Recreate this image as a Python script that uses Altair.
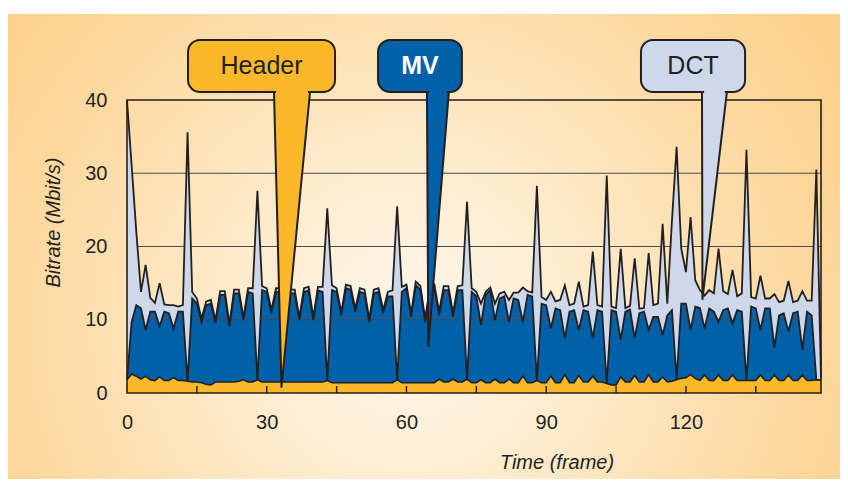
import altair as alt
import pandas as pd

# ---------------- data ----------------
frames = list(range(150))

# top of the Header layer (Mbit/s)
header_rate = [
    1.8, 2.6, 2.3, 1.9, 2.3, 1.8, 1.7, 2.2, 1.7, 1.7,
    2.1, 1.7, 1.7, 1.6, 1.5, 1.5, 1.4, 1.2, 1.1, 1.5,
    1.5, 1.5, 1.5, 1.5, 1.6, 1.8, 1.5, 1.5, 1.8, 1.5,
    1.5, 1.5, 1.5, 1.5, 1.5, 1.5, 1.5, 1.5, 1.5, 1.5,
    1.5, 1.5, 1.5, 1.7, 1.4, 1.4, 1.4, 1.4, 1.4, 1.4,
    1.4, 1.4, 1.4, 1.4, 1.4, 1.4, 1.4, 1.4, 1.8, 1.4,
    1.4, 1.4, 1.4, 1.4, 1.4, 1.4, 1.4, 1.9, 1.5, 1.5,
    1.9, 1.5, 1.5, 1.9, 1.4, 1.4, 1.8, 1.4, 1.4, 1.9,
    1.4, 1.4, 1.9, 1.4, 1.4, 2.3, 1.4, 1.4, 1.7, 1.4,
    1.4, 2.3, 1.4, 1.4, 2.5, 1.4, 1.4, 2.4, 1.5, 1.5,
    2.3, 1.5, 1.5, 1.3, 1.1, 1.1, 2.2, 1.5, 1.5, 2.4,
    1.5, 1.5, 2.5, 1.5, 1.5, 2.2, 1.5, 1.6, 1.8, 2.0,
    2.1, 2.5, 2.0, 1.7, 2.45, 1.7, 1.7, 2.45, 1.7, 1.7,
    2.45, 1.7, 1.7, 1.7, 1.7, 1.7, 2.45, 1.7, 1.7, 2.45,
    1.7, 1.7, 2.45, 1.7, 1.7, 2.45, 1.7, 1.7, 1.8, 1.8,
]

# top of the Header + MV layers (Mbit/s)
header_mv_rate = [
    1.8, 9.7, 12.0, 11.55, 8.6, 11.1, 11.1, 9.1, 11.1, 10.9,
    8.8, 11.1, 11.1, 1.6, 12.9, 12.2, 9.7, 12.0, 12.2, 9.5,
    13.4, 13.4, 9.05, 13.6, 13.6, 9.95, 13.8, 13.6, 1.8, 14.05,
    13.8, 10.9, 13.8, 13.8, 9.5, 13.6, 13.6, 9.95, 13.8, 14.0,
    9.95, 14.0, 13.8, 1.7, 14.05, 13.8, 10.6, 14.3, 14.1, 11.1,
    13.8, 13.6, 9.7, 13.6, 13.8, 10.9, 13.2, 13.2, 1.8, 13.8,
    14.3, 10.4, 14.7, 14.1, 9.7, 13.8, 14.3, 10.6, 14.05, 14.05,
    10.4, 14.05, 14.05, 1.9, 13.8, 13.2, 9.3, 13.4, 14.05, 9.95,
    12.9, 13.2, 9.7, 12.9, 12.7, 9.7, 13.4, 13.2, 1.7, 12.2,
    12.0, 8.8, 11.55, 11.3, 7.5, 11.1, 11.3, 8.6, 11.3, 11.1,
    7.5, 11.3, 11.1, 1.3, 11.3, 11.1, 7.3, 11.1, 11.4, 7.5,
    10.9, 11.1, 8.6, 10.4, 10.4, 7.9, 10.6, 11.3, 1.8, 12.2,
    12.2, 8.6, 11.8, 11.6, 8.8, 11.55, 11.1, 9.7, 11.3, 11.55,
    9.5, 11.3, 11.1, 1.7, 11.8, 11.55, 8.6, 11.55, 11.55, 6.2,
    10.6, 10.9, 8.4, 10.9, 11.1, 5.9, 11.1, 10.6, 1.8, 1.8,
]

# total bitrate = Header + MV + DCT (Mbit/s)
total_rate = [
    40.0, 31.0, 22.0, 13.8, 17.5, 13.0, 12.3, 15.0, 12.1, 12.0,
    12.0, 11.8, 12.0, 35.6, 13.8, 12.9, 10.1, 12.5, 12.7, 9.9,
    13.9, 13.9, 9.4, 14.1, 14.1, 10.3, 14.3, 14.3, 27.6, 14.6,
    14.3, 11.3, 14.3, 14.3, 9.9, 14.1, 14.1, 10.3, 14.3, 14.5,
    10.3, 14.5, 14.5, 25.2, 14.7, 14.3, 11.0, 14.8, 14.6, 11.5,
    14.3, 14.1, 10.1, 14.1, 14.3, 11.3, 13.8, 14.0, 25.5, 14.5,
    14.8, 10.8, 15.2, 14.6, 10.1, 14.3, 14.8, 11.1, 14.6, 14.6,
    10.9, 14.6, 14.7, 26.1, 14.3, 13.8, 12.2, 13.8, 14.4, 12.2,
    13.6, 13.8, 12.7, 13.7, 13.7, 14.4, 13.9, 13.7, 28.3, 13.1,
    12.7, 13.8, 12.5, 12.7, 14.7, 12.0, 12.2, 15.2, 11.8, 12.0,
    19.3, 12.0, 11.8, 29.7, 11.8, 11.6, 19.7, 11.6, 11.9, 18.4,
    11.5, 11.6, 19.1, 12.0, 12.2, 23.1, 12.2, 23.5, 33.6, 19.7,
    16.5, 24.0, 15.4, 14.05, 13.3, 14.05, 13.6, 19.7, 13.9, 13.5,
    16.8, 13.2, 13.6, 33.2, 13.1, 12.9, 16.0, 12.9, 12.9, 13.5,
    12.4, 12.6, 15.3, 12.4, 12.6, 13.9, 12.6, 12.6, 30.5, 2.0,
]

x_label_values = [0, 30, 60, 90, 120]
x_minor_ticks = [15, 30, 45, 60, 75, 90, 105, 120, 135]
y_label_values = [0, 10, 20, 30, 40]
grid_values = [10, 20, 30]
frame_domain = [0, 149]
rate_domain = [0, 40]

callout_labels = ["Header", "MV", "DCT"]
callout_fill = ["#FBB829", "#0061A9", "#CDD9EA"]
callout_text_color = ["#231F20", "#FFFFFF", "#231F20"]
callout_weight = ["normal", "bold", "normal"]
box_x1 = [13.1, 53.9, 110.35]
box_x2 = [44.66, 71.9, 132.7]
box_y1 = [41.1, 41.1, 41.1]
box_y2 = [48.2, 48.2, 48.2]
ptr_left = [31.56, 64.4, 123.45]
ptr_right = [39.3, 69.1, 128.8]
ptr_tip_x = [33.17, 64.69, 123.55]
ptr_tip_y = [0.82, 6.42, 12.83]

# ---------------- styling ----------------
W, H = 694, 293
PAD = {"left": 119, "top": 92, "right": 19, "bottom": 86}
FONT = "Liberation Sans"
INK = "#231F20"
C_HEADER = "#FBB829"
C_MV = "#0061A9"
C_DCT = "#CDD9EA"

df = pd.DataFrame({
    "frame": frames,
    "h": header_rate,
    "hm": header_mv_rate,
    "t": total_rate,
    "zero": [0.0] * len(frames),
})

xs = alt.Scale(domain=frame_domain, nice=False, zero=False)
ys = alt.Scale(domain=rate_domain, nice=False)

x_axis = alt.Axis(
    values=x_label_values, title="Time (frame)", ticks=False, tickSize=0,
    domain=False, grid=False, labelFlush=False, labelPadding=19,
    labelFont=FONT, labelFontSize=20, labelColor=INK,
    titleFont=FONT, titleFontSize=20, titleFontStyle="italic",
    titleFontWeight="normal", titleColor=INK,
    titleX=429.5, titleY=69, titleAlign="center", titleBaseline="middle",
    zindex=1,
)
y_axis = alt.Axis(
    values=y_label_values, title="Bitrate (Mbit/s)", ticks=False, tickSize=0,
    domain=False, grid=False, labelFlush=False, labelPadding=20,
    labelFont=FONT, labelFontSize=20, labelColor=INK,
    titleFont=FONT, titleFontSize=20, titleFontStyle="italic",
    titleFontWeight="normal", titleColor=INK,
    titleX=-74, titleY=122, titleAlign="center", titleBaseline="middle",
    zindex=1,
)


def X(field):
    return alt.X(field, scale=xs, axis=x_axis, title="Time (frame)")


def Y(field):
    return alt.Y(field, scale=ys, axis=y_axis, title="Bitrate (Mbit/s)")


# background panel with a radial gradient
bg = alt.Chart(pd.DataFrame({"k": [0]})).mark_rect(
    fill=alt.Gradient(
        gradient="radial",
        stops=[
            alt.GradientStop(offset=0, color="#FFF8EE"),
            alt.GradientStop(offset=0.35, color="#FEEBCB"),
            alt.GradientStop(offset=0.75, color="#FDD9A0"),
            alt.GradientStop(offset=1, color="#FDD08A"),
        ],
        x1=0.48, y1=0.6, r1=0, x2=0.48, y2=0.6, r2=0.62,
    ),
    strokeWidth=0,
).encode(
    x=alt.value(-PAD["left"]),
    x2=alt.value(W + PAD["right"]),
    y=alt.value(-PAD["top"] + 6),
    y2=alt.value(H + PAD["bottom"]),
)

base = alt.Chart(df)

header_area = base.mark_area(color=C_HEADER, opacity=1).encode(
    x=X("frame:Q"), y=Y("zero:Q"), y2="h:Q"
)
mv_area = base.mark_area(color=C_MV, opacity=1).encode(x=X("frame:Q"), y=Y("h:Q"), y2="hm:Q")

grid = alt.Chart(pd.DataFrame({"v": grid_values})).mark_rule(
    color="#4A4A4A", strokeWidth=1.2
).encode(y=Y("v:Q"), x=alt.value(0), x2=alt.value(W))

dct_area = base.mark_area(color=C_DCT, opacity=1).encode(x=X("frame:Q"), y=Y("hm:Q"), y2="t:Q")

line_t = base.mark_line(color=INK, strokeWidth=1.8).encode(x=X("frame:Q"), y=Y("t:Q"))
line_hm = base.mark_line(color=INK, strokeWidth=1.8).encode(x=X("frame:Q"), y=Y("hm:Q"))
line_h = base.mark_line(color=INK, strokeWidth=1.6).encode(x=X("frame:Q"), y=Y("h:Q"))

border = alt.Chart(pd.DataFrame({
    "x0": [frame_domain[0]], "x1": [frame_domain[1]],
    "y0": [rate_domain[0]], "y1": [rate_domain[1]],
})).mark_rect(filled=False, stroke=INK, strokeWidth=1.6).encode(
    x=X("x0:Q"), x2="x1:Q", y=Y("y0:Q"), y2="y1:Q"
)

ticks = alt.Chart(pd.DataFrame({"f": x_minor_ticks})).mark_rule(
    color=INK, strokeWidth=1.4
).encode(x=X("f:Q"), y=alt.value(H - 7), y2=alt.value(H))

layers = [bg, header_area, mv_area, grid, dct_area, line_t, line_hm, line_h, border, ticks]

for i, lab in enumerate(callout_labels):
    pdf = pd.DataFrame({
        "y": [box_y1[i], ptr_tip_y[i]],
        "x": [ptr_left[i], ptr_tip_x[i]],
        "x2": [ptr_right[i], ptr_tip_x[i]],
    })
    pointer = alt.Chart(pdf).mark_area(
        orient="horizontal", color=callout_fill[i], opacity=1,
        stroke=INK, strokeWidth=2, strokeJoin="round",
    ).encode(y=Y("y:Q"), x=X("x:Q"), x2="x2:Q")

    bdf = pd.DataFrame({
        "x1": [box_x1[i]], "x2": [box_x2[i]], "y1": [box_y1[i]], "y2": [box_y2[i]],
        "cx": [(box_x1[i] + box_x2[i]) / 2], "cy": [(box_y1[i] + box_y2[i]) / 2],
        "cl": [ptr_left[i] + 0.45], "cr": [ptr_right[i] - 0.45],
        "cb": [box_y1[i] - 0.6], "ct": [box_y1[i] + 0.45],
        "label": [lab],
    })
    box = alt.Chart(bdf).mark_rect(
        color=callout_fill[i], opacity=1, cornerRadius=12, stroke=INK, strokeWidth=2
    ).encode(x=X("x1:Q"), x2="x2:Q", y=Y("y1:Q"), y2="y2:Q")

    joint = alt.Chart(bdf).mark_rect(
        color=callout_fill[i], opacity=1, strokeWidth=0
    ).encode(x=X("cl:Q"), x2="cr:Q", y=Y("cb:Q"), y2="ct:Q")

    text = alt.Chart(bdf).mark_text(
        font=FONT, fontSize=25, color=callout_text_color[i],
        fontWeight=callout_weight[i], align="center", baseline="middle",
    ).encode(x=X("cx:Q"), y=Y("cy:Q"), text="label:N")

    layers += [pointer, box, joint, text]

chart = alt.layer(*layers).properties(
    width=W,
    height=H,
    padding=PAD,
    autosize=alt.AutoSizeParams(type="none"),
    background="white",
).configure_view(strokeWidth=0)

chart.save("out.html", embed_options={"renderer": "svg", "actions": False})
